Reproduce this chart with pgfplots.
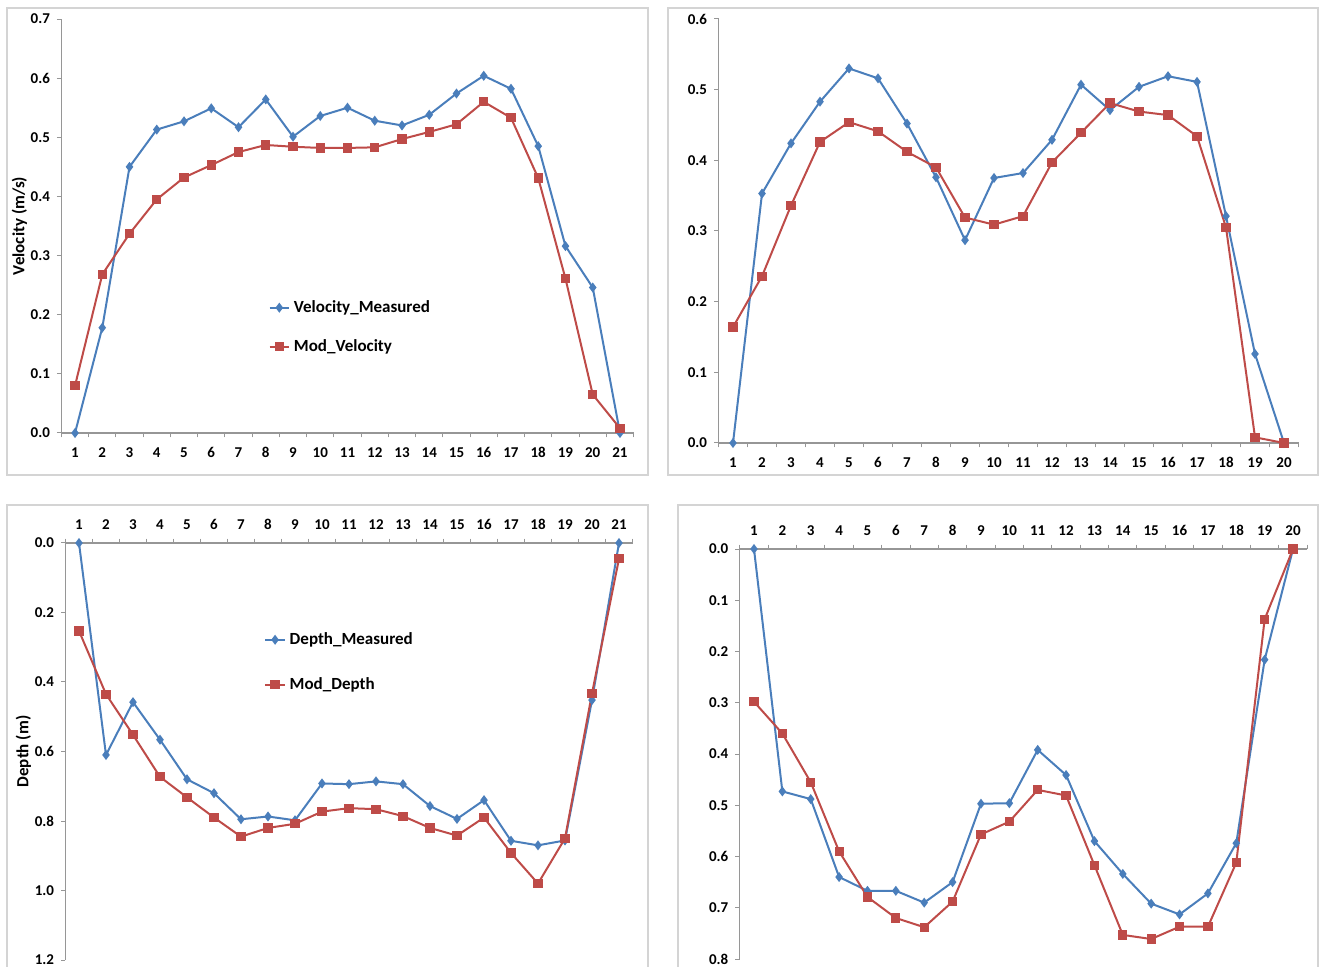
\documentclass[border=0pt]{standalone}
\usepackage{fontspec}
\setmainfont{Carlito}
\usepackage{pgfplots}
\pgfplotsset{compat=1.18}
\definecolor{mblue}{HTML}{4A7EBB}
\definecolor{mred}{HTML}{BE4B48}
\definecolor{axgray}{HTML}{969696}
\definecolor{framegray}{HTML}{D4D4D4}
\pgfplotsset{
  panel/.style={
    scale only axis,
    axis line style={axgray, line width=0.6pt},
    tick style={axgray, line width=0.5pt},
    tick align=outside, major tick length=2.2pt,
    xticklabels={},
    extra x tick style={major tick length=0pt},
    ytick distance=0.1,
    /pgf/number format/assume math mode=true,
    ticklabel style={font=\bfseries\fontsize{7.5}{8}\selectfont},
    yticklabel style={/pgf/number format/fixed, /pgf/number format/fixed zerofill, /pgf/number format/precision=1},
    xticklabel style={/pgf/number format/fixed, /pgf/number format/precision=0, text height=5.2pt, text depth=0pt},
    label style={font=\bfseries\fontsize{8.5}{10}\selectfont},
    ylabel shift=-5pt,
    legend style={draw=none, fill=none, font=\bfseries\fontsize{8.5}{10}\selectfont, anchor=north west},
    legend cell align=left,
    legend image code/.code={\draw[mark repeat=2,mark phase=2] plot coordinates {(0cm,0cm) (0.17cm,0cm) (0.34cm,0cm)};},
    clip=false,
  },
  toppanel/.style={panel, axis lines*=left, xticklabel style={yshift=-3.5pt}},
  botpanel/.style={panel, y dir=reverse, axis x line*=top, axis y line*=left, xticklabel style={yshift=3pt}},
  meas/.style={color=mblue, line width=1pt, mark=diamond*, mark size=1.7pt, mark options={solid}},
  modl/.style={color=mred, line width=1pt, mark=square*, mark size=1.8pt, mark options={solid}},
}
\begin{document}
\begin{tikzpicture}
\useasboundingbox (0pt,0pt) rectangle (660pt,483.5pt);
% frames
\draw[framegray, line width=0.8pt] (3.5pt,246pt) rectangle (324pt,479.5pt);
\draw[framegray, line width=0.8pt] (334pt,246pt) rectangle (659pt,479.5pt);
\draw[framegray, line width=0.8pt] (3.5pt,-2pt) -- (3.5pt,231pt) -- (324pt,231pt) -- (324pt,-2pt);
\draw[framegray, line width=0.8pt] (339pt,-2pt) -- (339pt,231pt) -- (659pt,231pt) -- (659pt,-2pt);

% Panel 1
\begin{axis}[toppanel, at={(30.7pt,267pt)}, anchor=south west, width=286.1pt, height=207pt,
  xmin=0.5, xmax=21.5, ymin=0, ymax=0.7,
  xtick={0.5,1.5,...,21.5}, extra x ticks={1,2,...,21},
  ylabel={Velocity (m/s)},
  legend style={at={(0.351,0.341)}, row sep=8pt}]
\addplot[meas] coordinates {(1,0.0) (2,0.178) (3,0.45) (4,0.513) (5,0.527) (6,0.549) (7,0.517) (8,0.564) (9,0.501) (10,0.536) (11,0.550) (12,0.528) (13,0.520) (14,0.538) (15,0.574) (16,0.604) (17,0.582) (18,0.485) (19,0.316) (20,0.246) (21,0.0)};
\addlegendentry{Velocity\_Measured}
\addplot[modl] coordinates {(1,0.080) (2,0.268) (3,0.337) (4,0.395) (5,0.432) (6,0.453) (7,0.475) (8,0.487) (9,0.484) (10,0.482) (11,0.482) (12,0.483) (13,0.497) (14,0.509) (15,0.522) (16,0.560) (17,0.533) (18,0.431) (19,0.261) (20,0.065) (21,0.008)};
\addlegendentry{Mod\_Velocity}
\end{axis}

% Panel 2
\begin{axis}[toppanel, at={(359.25pt,262pt)}, anchor=south west, width=290pt, height=212pt,
  xmin=0.5, xmax=20.5, ymin=0, ymax=0.6,
  xtick={0.5,1.5,...,20.5}, extra x ticks={1,2,...,20}]
\addplot[meas] coordinates {(1,0.0) (2,0.353) (3,0.424) (4,0.483) (5,0.530) (6,0.516) (7,0.452) (8,0.376) (9,0.287) (10,0.375) (11,0.382) (12,0.429) (13,0.507) (14,0.471) (15,0.504) (16,0.519) (17,0.511) (18,0.321) (19,0.126) (20,0.0)};
\addplot[modl] coordinates {(1,0.164) (2,0.236) (3,0.336) (4,0.426) (5,0.454) (6,0.441) (7,0.412) (8,0.390) (9,0.319) (10,0.309) (11,0.321) (12,0.397) (13,0.439) (14,0.481) (15,0.469) (16,0.464) (17,0.434) (18,0.305) (19,0.008) (20,0.0)};
\end{axis}

% Panel 3
\begin{axis}[botpanel, at={(32.75pt,3.5pt)}, anchor=south west, width=283.5pt, height=208.5pt,
  xmin=0.5, xmax=21.5, ymin=0, ymax=1.2, ytick distance=0.2,
  xtick={0.5,1.5,...,21.5}, extra x ticks={1,2,...,21},
  ylabel={Depth (m)},
  legend style={at={(0.3395,0.806)}, row sep=11pt}]
\addplot[meas] coordinates {(1,0.0) (2,0.61) (3,0.458) (4,0.566) (5,0.68) (6,0.72) (7,0.795) (8,0.787) (9,0.798) (10,0.692) (11,0.694) (12,0.686) (13,0.694) (14,0.757) (15,0.794) (16,0.740) (17,0.857) (18,0.870) (19,0.856) (20,0.452) (21,0.0)};
\addlegendentry{Depth\_Measured}
\addplot[modl] coordinates {(1,0.253) (2,0.435) (3,0.552) (4,0.673) (5,0.732) (6,0.79) (7,0.845) (8,0.820) (9,0.808) (10,0.773) (11,0.763) (12,0.766) (13,0.786) (14,0.820) (15,0.842) (16,0.790) (17,0.892) (18,0.980) (19,0.850) (20,0.433) (21,0.045)};
\addlegendentry{Mod\_Depth}
\end{axis}

% Panel 4
\begin{axis}[botpanel, at={(369.9pt,4pt)}, anchor=south west, width=283.7pt, height=205pt,
  xmin=0.5, xmax=20.5, ymin=0, ymax=0.8,
  xtick={0.5,1.5,...,20.5}, extra x ticks={1,2,...,20}]
\addplot[meas] coordinates {(1,0.0) (2,0.473) (3,0.488) (4,0.640) (5,0.667) (6,0.667) (7,0.690) (8,0.650) (9,0.497) (10,0.496) (11,0.392) (12,0.441) (13,0.570) (14,0.634) (15,0.692) (16,0.713) (17,0.672) (18,0.574) (19,0.216) (20,0.0)};
\addplot[modl] coordinates {(1,0.298) (2,0.360) (3,0.455) (4,0.590) (5,0.679) (6,0.720) (7,0.738) (8,0.688) (9,0.557) (10,0.532) (11,0.470) (12,0.481) (13,0.617) (14,0.753) (15,0.761) (16,0.737) (17,0.737) (18,0.612) (19,0.137) (20,0.0)};
\end{axis}
\end{tikzpicture}
\end{document}
